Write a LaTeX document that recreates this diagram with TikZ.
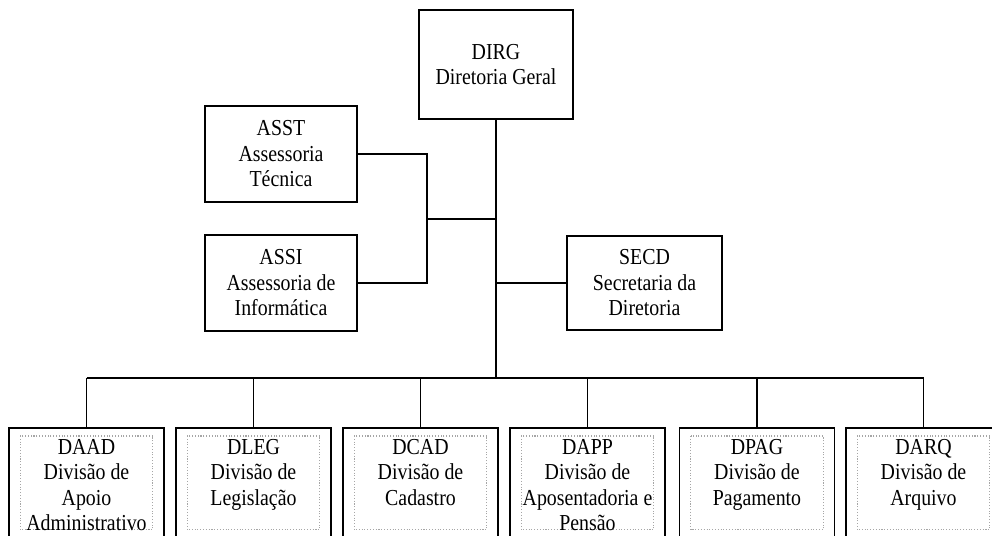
\documentclass[tikz,border=0pt]{standalone}
\usepackage{fontspec}
\setmainfont{Liberation Serif}[FakeStretch=0.87]
\usepackage{tikz}

\begin{document}
\begin{tikzpicture}[x=0.02cm,y=-0.02cm,font=\fontsize{13}{14.5}\selectfont,
  unit/.style={draw,line width=1pt,align=center,inner sep=0pt},
  link/.style={line width=0.8pt},
  division/.style={draw,line width=1pt,minimum width=3.1cm,minimum height=2.36cm,
    anchor=north,inner sep=0pt},
  divtext/.style={align=center,anchor=north,inner sep=0pt},
  innerframe/.style={draw=gray!70,densely dotted,line width=0.6pt}]
  \clip (0,0) rectangle (992,536);
  % direction and advisory units
  \node[unit,minimum width=3.08cm,minimum height=2.18cm] (dirg) at (496,64.5)
    {DIRG\\Diretoria Geral};
  \node[unit,minimum width=3.04cm,minimum height=1.92cm] (asst) at (281,154)
    {ASST\\Assessoria\\Técnica};
  \node[unit,minimum width=3.04cm,minimum height=1.92cm] (assi) at (281,283)
    {ASSI\\Assessoria de\\Informática};
  \node[unit,minimum width=3.1cm,minimum height=1.88cm] (secd) at (644.5,283)
    {SECD\\Secretaria da\\Diretoria};
  % divisions
  \node[division] (daad) at (86.5,427) {};
  \node[division] (dleg) at (253.5,427) {};
  \node[division] (dcad) at (420.5,427) {};
  \node[division] (dapp) at (587.5,427) {};
  \node[division] (dpag) at (757,427) {};
  \node[division] (darq) at (923.5,427) {};
  \foreach \d in {daad,dleg,dcad,dapp,dpag,darq}
    \draw[innerframe] ([shift={(12,9)}]\d.north west) rectangle ([shift={(-12,-17)}]\d.south east);
  \node[divtext] (daadtext) at ([shift={(0,12)}]daad.north)
    {DAAD\\Divisão de\\Apoio\\Administrativo};
  \node[divtext] (dlegtext) at ([shift={(0,12)}]dleg.north)
    {DLEG\\Divisão de\\Legislação};
  \node[divtext] (dcadtext) at ([shift={(0,12)}]dcad.north)
    {DCAD\\Divisão de\\Cadastro};
  \node[divtext] (dapptext) at ([shift={(0,12)}]dapp.north)
    {DAPP\\Divisão de\\Aposentadoria e\\Pensão};
  \node[divtext] (dpagtext) at ([shift={(0,12)}]dpag.north)
    {DPAG\\Divisão de\\Pagamento};
  \node[divtext] (darqtext) at ([shift={(0,12)}]darq.north)
    {DARQ\\Divisão de\\Arquivo};
  % connectors
  \path (dirg.south) ++(0,258) coordinate (bus);
  \coordinate (join) at (427,219);
  \draw[link] (dirg) -- (bus);
  \draw[link] (asst) -| (join) |- (assi);
  \draw[link] (join) -- (join -| bus);
  \draw[link] (secd) -- (secd -| bus);
  \draw[link] (daad.north |- bus) -- (darq.north |- bus);
  \foreach \d in {daad,dleg,dcad,dapp,dpag,darq}
    \draw[link] (\d) -- (\d |- bus);
\end{tikzpicture}
\end{document}
